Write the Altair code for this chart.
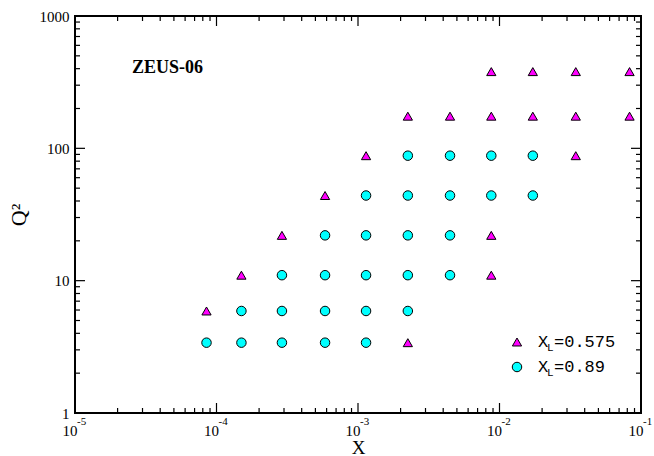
import altair as alt
import pandas as pd

# ---------------- data ----------------
# X_L = 0.575 (triangles)
tri_x = [8.75e-3, 1.72e-2, 3.46e-2, 8.3e-2,
         2.25e-3, 4.47e-3, 8.75e-3, 1.72e-2, 3.46e-2, 8.3e-2,
         1.14e-3, 3.46e-2,
         5.85e-4,
         2.9e-4, 8.75e-3,
         1.5e-4, 8.75e-3,
         8.5e-5,
         2.25e-3]
tri_q2 = [380, 380, 380, 380,
          175, 175, 175, 175, 175, 175,
          88, 88,
          44,
          22, 22,
          11, 11,
          5.9,
          3.4]

# X_L = 0.89 (circles)
circ_x = [2.25e-3, 4.47e-3, 8.75e-3, 1.72e-2,
          1.14e-3, 2.25e-3, 4.47e-3, 8.75e-3, 1.72e-2,
          5.85e-4, 1.14e-3, 2.25e-3, 4.47e-3,
          2.9e-4, 5.85e-4, 1.14e-3, 2.25e-3, 4.47e-3,
          1.5e-4, 2.9e-4, 5.85e-4, 1.14e-3, 2.25e-3,
          8.5e-5, 1.5e-4, 2.9e-4, 5.85e-4, 1.14e-3]
circ_q2 = [88, 88, 88, 88,
           44, 44, 44, 44, 44,
           22, 22, 22, 22,
           11, 11, 11, 11, 11,
           5.9, 5.9, 5.9, 5.9, 5.9,
           3.4, 3.4, 3.4, 3.4, 3.4]

x_major = [1e-5, 1e-4, 1e-3, 1e-2, 1e-1]
x_exponents = ["-5", "-4", "-3", "-2", "-1"]
y_major = [1, 10, 100, 1000]

legend_labels = ["=0.575", "=0.89"]
title_text = "ZEUS-06"

# ---------------- layout ----------------
W, H = 566, 397
SERIF = "Liberation Serif"
MONO = "Liberation Mono"

x_minor = [m * 10.0 ** e for e in range(-5, -1) for m in range(2, 10)]
y_minor = [m * 10.0 ** e for e in range(0, 3) for m in range(2, 10)]

xscale = alt.Scale(type="log", domain=[1e-5, 1e-1], nice=False)
yscale = alt.Scale(type="log", domain=[1, 1000], nice=False)

df_tri = pd.DataFrame({"x": tri_x, "q2": tri_q2})
df_circ = pd.DataFrame({"x": circ_x, "q2": circ_q2})

x_axis = alt.Axis(values=x_major, labelExpr="'10'", ticks=False, domain=False, grid=False,
                  labelFont=SERIF, labelFontSize=15, labelColor="black",
                  labelAlign="right", labelOffset=2, labelBaseline="alphabetic",
                  labelPadding=22, labelFlush=False, labelOverlap=False,
                  title="X", titleFont=SERIF, titleFontSize=19, titleFontWeight="normal",
                  titleColor="black", titlePadding=0)
y_axis = alt.Axis(values=y_major, labelExpr="format(datum.value, 'd')", ticks=False, domain=False,
                  grid=False, labelFont=SERIF, labelFontSize=15, labelColor="black",
                  labelPadding=6, labelOverlap=False, labelFlush=False,
                  title="Q²", titleFont=SERIF, titleFontSize=22, titleFontWeight="normal",
                  titleColor="black", titlePadding=9)


def X(field):
    return alt.X(field, scale=xscale, axis=x_axis)


def Y(field):
    return alt.Y(field, scale=yscale, axis=y_axis)


circles = alt.Chart(df_circ).mark_point(
    shape="circle", filled=True, fill="#00ffff", stroke="black", strokeWidth=1,
    size=90, opacity=1).encode(x=X("x:Q"), y=Y("q2:Q"))

triangles = alt.Chart(df_tri).mark_point(
    shape="triangle-up", filled=True, fill="#ff00ff", stroke="black", strokeWidth=1,
    size=85, opacity=1).encode(x=X("x:Q"), y=Y("q2:Q"))


# ----- inward ticks on all four sides -----
def xticks(vals, length):
    d = pd.DataFrame({"x": vals})
    bottom = alt.Chart(d).mark_rule(color="black", strokeWidth=1.2).encode(
        x=X("x:Q"), y=alt.value(H), y2=alt.value(H - length))
    top = alt.Chart(d).mark_rule(color="black", strokeWidth=1.2).encode(
        x=X("x:Q"), y=alt.value(0), y2=alt.value(length))
    return [bottom, top]


def yticks(vals, length):
    d = pd.DataFrame({"q2": vals})
    left = alt.Chart(d).mark_rule(color="black", strokeWidth=1.2).encode(
        y=Y("q2:Q"), x=alt.value(0), x2=alt.value(length))
    right = alt.Chart(d).mark_rule(color="black", strokeWidth=1.2).encode(
        y=Y("q2:Q"), x=alt.value(W), x2=alt.value(W - length))
    return [left, right]


tick_layers = xticks(x_major, 10) + xticks(x_minor, 5) + yticks(y_major, 10) + yticks(y_minor, 5)

# exponents of the x tick labels
exp_layer = alt.Chart(pd.DataFrame({"x": x_major, "e": x_exponents})).mark_text(
    align="left", baseline="alphabetic", dx=2, font=SERIF, fontSize=11, color="black").encode(
    x=X("x:Q"), y=alt.value(H + 12), text="e:N")

# title annotation
title_layer = alt.Chart(pd.DataFrame({"t": [title_text]})).mark_text(
    align="left", baseline="alphabetic", font=SERIF, fontSize=18, fontWeight="bold",
    color="black").encode(x=alt.value(57), y=alt.value(57), text="t:N")

# ----- manual legend -----
LX, LY1, LY2 = 442, 326, 351
leg_tri = alt.Chart(pd.DataFrame({"a": [0]})).mark_point(
    shape="triangle-up", filled=True, fill="#ff00ff", stroke="black", strokeWidth=1,
    size=85, opacity=1).encode(x=alt.value(LX), y=alt.value(LY1))
leg_circ = alt.Chart(pd.DataFrame({"a": [0]})).mark_point(
    shape="circle", filled=True, fill="#00ffff", stroke="black", strokeWidth=1,
    size=90, opacity=1).encode(x=alt.value(LX), y=alt.value(LY2))

leg_texts = []
for ly, lab in zip([LY1, LY2], legend_labels):
    d = pd.DataFrame({"X": ["X"], "L": ["L"], "r": [lab]})
    leg_texts.append(alt.Chart(d).mark_text(
        align="left", baseline="middle", font=MONO, fontSize=17, color="black").encode(
        x=alt.value(463), y=alt.value(ly), text="X:N"))
    leg_texts.append(alt.Chart(d).mark_text(
        align="left", baseline="middle", font=MONO, fontSize=11, color="black").encode(
        x=alt.value(472), y=alt.value(ly + 6), text="L:N"))
    leg_texts.append(alt.Chart(d).mark_text(
        align="left", baseline="middle", font=MONO, fontSize=17, color="black").encode(
        x=alt.value(479), y=alt.value(ly), text="r:N"))

chart = alt.layer(circles, triangles, *tick_layers, exp_layer, title_layer,
                  leg_tri, leg_circ, *leg_texts).properties(
    width=W, height=H,
    padding={"left": 75, "top": 16, "right": 13, "bottom": 43},
    autosize=alt.AutoSizeParams(type="none"),
    background="white",
).configure_view(stroke="black", strokeWidth=2)

chart.save("out.html", embed_options={"renderer": "svg", "actions": False})
